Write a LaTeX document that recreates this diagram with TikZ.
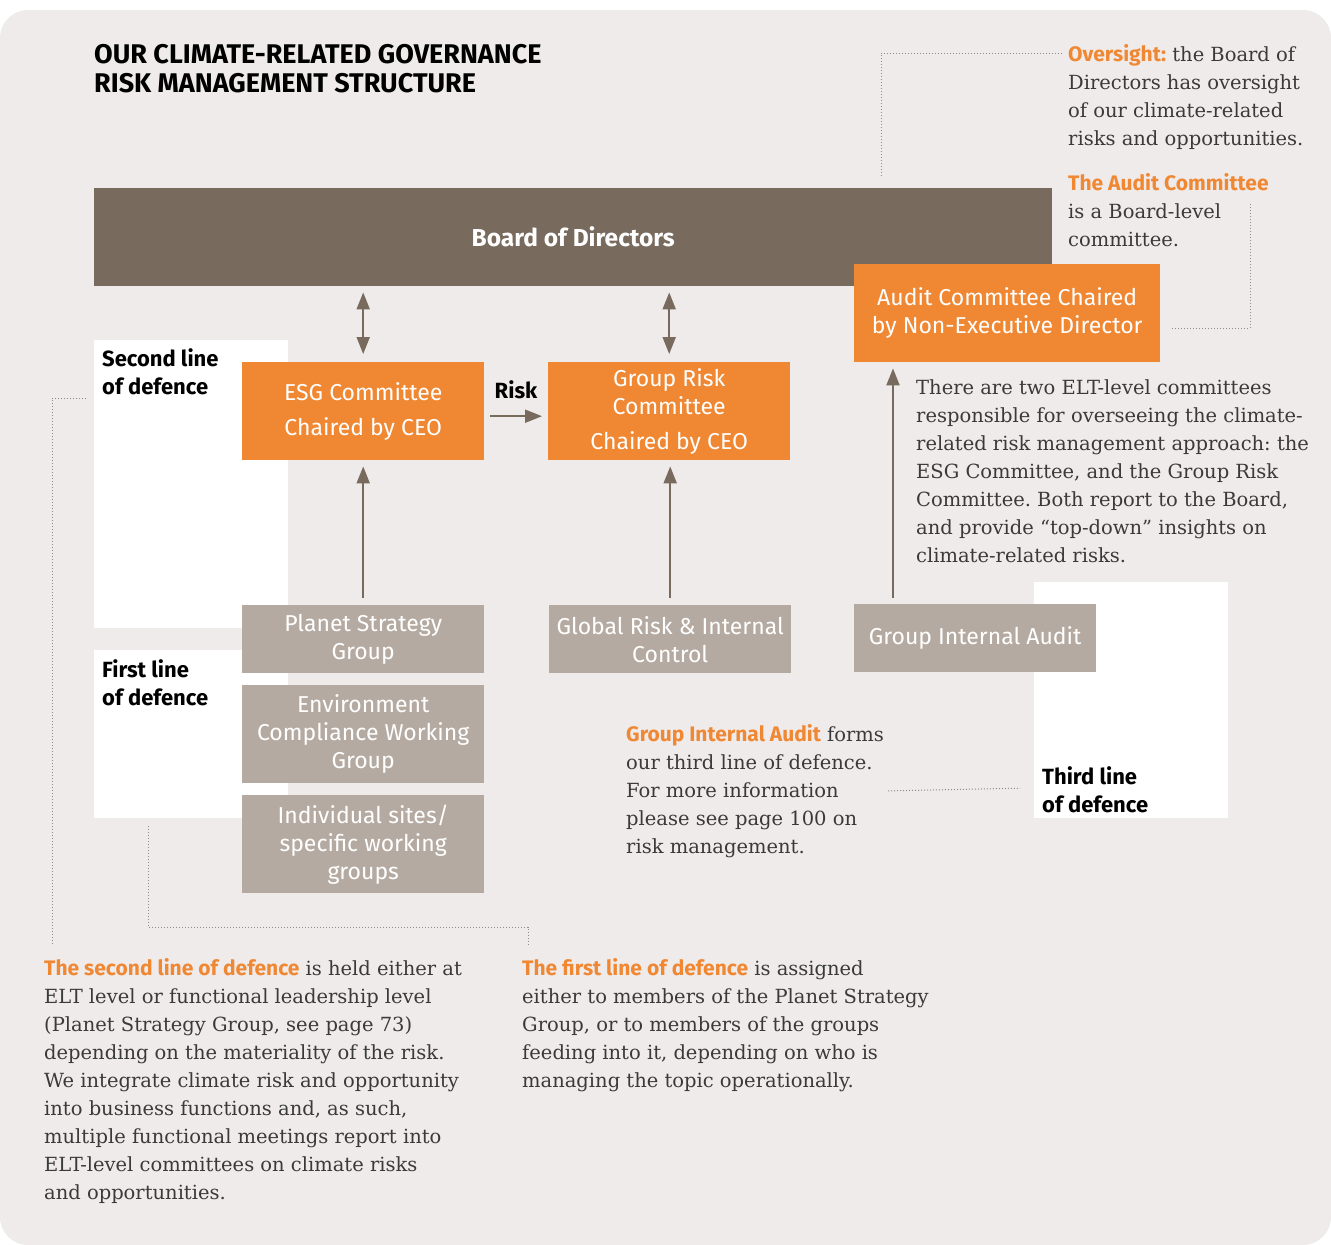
\documentclass[tikz,border=0pt]{standalone}
\usepackage{fontspec}
\setmainfont{DejaVu Serif}
\setsansfont{Fira Sans}
\usetikzlibrary{arrows.meta,calc}
\frenchspacing

\definecolor{panel}{HTML}{EFEBEA}
\definecolor{board}{HTML}{786A5D}
\definecolor{accent}{HTML}{F08833}
\definecolor{stone}{HTML}{B5AAA1}
\definecolor{body}{HTML}{3A3A3A}
\definecolor{dots}{HTML}{8C8C8C}

\tikzset{
  orgbox/.style={anchor=north west, inner sep=0pt, align=center, text=white,
    font=\sffamily\fontsize{23}{28}\selectfont},
  orangebox/.style={orgbox, fill=accent},
  greybox/.style={orgbox, fill=stone},
  defbox/.style={anchor=north west, inner sep=0pt, fill=white},
  linelabel/.style={anchor=north west, inner sep=0pt, align=left,
    font=\sffamily\bfseries\fontsize{22}{28}\selectfont},
  para/.style={anchor=north west, inner sep=0pt, align=left, text=body,
    font=\fontsize{19.5}{28}\selectfont},
  feed/.style={draw=board, line width=2pt},
  leader/.style={draw=dots, line width=1pt, dash pattern=on 1pt off 2pt},
}
\newcommand{\hl}[1]{\textcolor{accent}{\sffamily\bfseries\fontsize{21}{28}\selectfont #1}}

\begin{document}
\begin{tikzpicture}[x=1pt, y=-1pt, >={Triangle[width=13pt,length=17pt]}]
  \useasboundingbox (0,0) rectangle (1331,1245);
  \fill[panel, rounded corners=28pt] (0,10) rectangle (1331,1245);

  % Title
  \node[anchor=north west, inner sep=0pt, align=left,
    font=\sffamily\bfseries\fontsize{27}{29}\selectfont] (title) at (94,44)
    {OUR CLIMATE-RELATED GOVERNANCE\\RISK MANAGEMENT STRUCTURE};

  % Lines of defence
  \node[defbox, minimum width=194pt, minimum height=288pt] (second) at (94,340) {};
  \node[defbox, minimum width=194pt, minimum height=168pt] (first) at (94,650) {};
  \node[defbox, minimum width=194pt, minimum height=236pt] (third) at (1034,582) {};
  \node[linelabel] (secondlbl) at (102,348) {Second line\\of defence};
  \node[linelabel] (firstlbl) at (102,659) {First line\\of defence};
  \node[linelabel] (thirdlbl) at (1042,766) {Third line\\of defence};

  % Board and committees
  \node[orgbox, fill=board, minimum width=958pt, minimum height=98pt,
    font=\sffamily\bfseries\fontsize{24.5}{28}\selectfont] (board) at (94,188) {Board of Directors};
  \node[orangebox, minimum width=306pt, minimum height=98pt] (audit) at (854,264)
    {Audit Committee Chaired\\by Non-Executive Director};
  \node[orangebox, minimum width=242pt, minimum height=98pt] (esg) at (242,362)
    {ESG Committee\\[7pt]Chaired by CEO};
  \node[orangebox, minimum width=242pt, minimum height=98pt] (grc) at (548,362)
    {Group Risk\\Committee\\[7pt]Chaired by CEO};

  % Working groups
  \node[greybox, minimum width=242pt, minimum height=68pt] (psg) at (242,605)
    {Planet Strategy\\Group};
  \node[greybox, minimum width=242pt, minimum height=98pt] (ecwg) at (242,685)
    {Environment\\Compliance Working\\Group};
  \node[greybox, minimum width=242pt, minimum height=98pt] (sites) at (242,795)
    {Individual sites/\\specific working\\groups};
  \node[greybox, minimum width=242pt, minimum height=68pt] (grisk) at (549,605)
    {Global Risk \& Internal\\Control};
  \node[greybox, minimum width=242pt, minimum height=68pt] (gia) at (854,604)
    {Group Internal Audit};

  % Reporting arrows
  \draw[feed, <->, shorten <=6pt, shorten >=8pt] (board.south -| esg.north) -- (esg.north);
  \draw[feed, <->, shorten <=6pt, shorten >=8pt] (board.south -| grc.north) -- (grc.north);
  \draw[feed, ->, shorten <=6pt, shorten >=6pt] ($(esg.east)+(0,5)$) -- ($(grc.west)+(0,5)$);
  \node[font=\sffamily\bfseries\fontsize{22}{28}\selectfont] (risk) at (516,390) {Risk};
  \draw[feed, ->, shorten <=7pt, shorten >=6pt] (psg.north) -- (esg.south);
  \draw[feed, ->, shorten <=7pt, shorten >=6pt] (grisk.north) -- (grisk.north |- grc.south);
  \coordinate (giatap) at ($(gia.north west)+(39,0)$);
  \draw[feed, ->, shorten <=6pt, shorten >=6pt] (giatap) -- (giatap |- audit.south);

  % Notes
  \node[para] (oversight) at (1068,44)
    {\hl{Oversight:} the Board of\\Directors has oversight\\of our climate-related\\risks and opportunities.};
  \node[para] (auditnote) at (1068,173)
    {\hl{The Audit Committee}\\is a Board-level\\committee.};
  \node[para] (eltnote) at (916,379)
    {There are two ELT-level committees\\responsible for overseeing the climate-\\related risk management approach: the\\ESG Committee, and the Group Risk\\Committee. Both report to the Board,\\and provide “top-down” insights on\\climate-related risks.};
  \node[para] (gianote) at (626,724)
    {\hl{Group Internal Audit} forms\\our third line of defence.\\For more information\\please see page 100 on\\risk management.};
  \node[para] (secondnote) at (44,958)
    {\hl{The second line of defence} is held either at\\ELT level or functional leadership level\\(Planet Strategy Group, see page 73)\\depending on the materiality of the risk.\\We integrate climate risk and opportunity\\into business functions and, as such,\\multiple functional meetings report into\\ELT-level committees on climate risks\\and opportunities.};
  \node[para] (firstnote) at (522,958)
    {\hl{The first line of defence} is assigned\\either to members of the Planet Strategy\\Group, or to members of the groups\\feeding into it, depending on who is\\managing the topic operationally.};

  % Dotted leaders
  \coordinate (ovend) at (881,178);
  \draw[leader] ($(oversight.north west)+(-6,9)$) -| (ovend);
  \coordinate (acend) at (1250,202);
  \draw[leader] ($(audit.east)+(12,15)$) -| (acend);
  \coordinate (slend) at (52,945);
  \draw[leader] ($(second.north west)+(-8,58)$) -| (slend);
  \coordinate (flend) at (528,946);
  \draw[leader] ($(first.south west)+(54,8)$) |- (flend |- 0,927) -- (flend);
  \draw[leader] ($(gianote.west)+(262,0)$) -- ($(third.west)+(-14,88)$);
\end{tikzpicture}
\end{document}
